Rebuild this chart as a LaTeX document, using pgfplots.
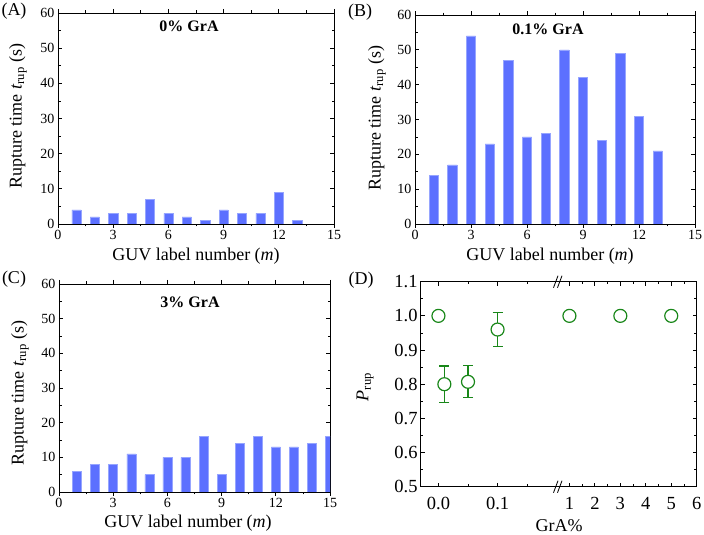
\documentclass[border=0pt]{standalone}
\usepackage{pgfplots}
\pgfplotsset{compat=1.18}
\usepackage{fontspec}
\setmainfont{Liberation Serif}
\definecolor{barblue}{RGB}{92,112,255}
\definecolor{baredge}{RGB}{150,165,255}
\definecolor{dgreen}{RGB}{25,135,25}
\pgfplotsset{
  common/.style={scale only axis, tick align=inside,
    major tick length=4bp, minor tick length=2.5bp,
    axis line style={line width=0.9bp},
    every tick/.append style={black, line width=0.8bp},
    /pgf/number format/assume math mode=true},
  barax/.style={common, xmin=0, xmax=15, ymin=0, ymax=60,
    xtick={0,3,...,15}, ytick={0,10,...,60},
    minor x tick num=1, minor y tick num=1,
    tick label style={font=\fontsize{14bp}{16bp}\selectfont},
    yticklabel style={inner sep=3.5bp},
    xticklabel style={inner sep=2bp},
    ybar, bar shift=0pt, bar width=0.5},
  dax/.style={common, ymin=0.5, ymax=1.1, ytick={0.5,0.6,...,1.1},
    minor y tick num=1, clip=false,
    axis line style={draw=none},
    tick label style={font=\fontsize{18.5bp}{20bp}\selectfont},
    xticklabel style={yshift=-10bp},
    yticklabel style={inner sep=3bp, /pgf/number format/.cd, fixed, fixed zerofill, precision=1}},
  barplot/.style={fill=barblue, draw=baredge, line width=0.5bp},
  gpt/.style={only marks, mark=*, mark size=6.5bp,
    mark options={draw=dgreen, fill=white, line width=1.2bp}},
}
\newcommand{\lab}{\fontsize{18bp}{20bp}\selectfont}
\begin{document}
\begin{tikzpicture}[every node/.style={inner sep=0pt}]
\useasboundingbox (0bp,0bp) rectangle (704bp,535bp);

% (A)
\begin{axis}[barax, at={(58bp,311bp)}, anchor=south west, width=276bp, height=211bp]
\addplot[barplot] coordinates {(1,4) (2,2) (3,3) (4,3) (5,7) (6,3) (7,2) (8,1) (9,4) (10,3) (11,3) (12,9) (13,1)};
\end{axis}

% (B)
\begin{axis}[barax, at={(415bp,311bp)}, anchor=south west, width=280bp, height=209bp]
\addplot[barplot] coordinates {(1,14) (2,17) (3,54) (4,23) (5,47) (6,25) (7,26) (8,50) (9,42) (10,24) (11,49) (12,31) (13,21)};
\end{axis}

% (C)
\begin{axis}[barax, at={(59bp,43bp)}, anchor=south west, width=271bp, height=208bp]
\addplot[barplot] coordinates {(1,6) (2,8) (3,8) (4,11) (5,5) (6,10) (7,10) (8,16) (9,5) (10,14) (11,16) (12,13) (13,13) (14,14) (15,16)};
\end{axis}

% (D) left segment
\begin{axis}[dax, at={(420.7bp,48.3bp)}, anchor=south west, width=136bp, height=205bp,
  xmin=-0.03, xmax=0.2, xtick={0,0.1}, xticklabels={0.0,0.1},
  minor xtick={0.05,0.15}, ytick pos=left]
\draw[line width=0.9bp] (rel axis cs:1,0) -- (rel axis cs:0,0) -- (rel axis cs:0,1) -- (rel axis cs:1,1);
\addplot[gpt] coordinates {(0,1.0)};
\addplot[gpt, error bars/.cd, y dir=both, y explicit,
  error bar style={dgreen, line width=1.2bp},
  error mark=-,
  error mark options={rotate=90, dgreen, line width=1.2bp, mark size=5bp}]
  coordinates {(0.01,0.800) +- (0,0.053) (0.05,0.807) +- (0,0.047) (0.1,0.960) +- (0,0.050)};
\end{axis}

% (D) right segment
\begin{axis}[dax, at={(556.7bp,48.3bp)}, anchor=south west, width=140bp, height=205bp,
  xmin=0.5, xmax=6, xtick={1,2,...,6}, minor x tick num=1,
  ytick pos=right, yticklabels={}]
\draw[line width=0.9bp] (rel axis cs:0,0) -- (rel axis cs:1,0) -- (rel axis cs:1,1) -- (rel axis cs:0,1);
\addplot[gpt] coordinates {(1,1.0) (3,1.0) (5,1.0)};
\end{axis}

% break marks
\foreach \yy in {48.3,253.3} {
  \draw[line width=0.8bp] (553.5bp,\yy bp-6bp) -- (558bp,\yy bp+6bp);
  \draw[line width=0.8bp] (557.5bp,\yy bp-6bp) -- (562bp,\yy bp+6bp);
}

% panel labels
\node[font=\lab] at (14bp,524bp) {(A)};
\node[font=\lab] at (360bp,523bp) {(B)};
\node[font=\lab] at (14bp,256bp) {(C)};
\node[font=\lab] at (361bp,255bp) {(D)};

% titles
\node[font=\fontsize{16bp}{18bp}\selectfont\bfseries] at (189bp,509bp) {0\% GrA};
\node[font=\fontsize{16bp}{18bp}\selectfont\bfseries] at (548bp,506bp) {0.1\% GrA};
\node[font=\fontsize{16bp}{18bp}\selectfont\bfseries] at (190bp,233bp) {3\% GrA};

% y labels
\node[font=\lab, rotate=90] at (18bp,419bp) {Rupture time \textit{t}\textsubscript{rup} (s)};
\node[font=\lab, rotate=90] at (377bp,417bp) {Rupture time \textit{t}\textsubscript{rup} (s)};
\node[font=\lab, rotate=90] at (20bp,142bp) {Rupture time \textit{t}\textsubscript{rup} (s)};
\node[font=\lab, rotate=90] at (365bp,148bp) {\textit{P}\textsubscript{rup}};

% x labels
\node[font=\lab] at (196bp,279bp) {GUV label number (\textit{m})};
\node[font=\lab] at (550bp,279bp) {GUV label number (\textit{m})};
\node[font=\lab] at (188bp,12bp) {GUV label number (\textit{m})};
\node[font=\lab] at (559bp,9bp) {GrA\%};
\end{tikzpicture}
\end{document}
